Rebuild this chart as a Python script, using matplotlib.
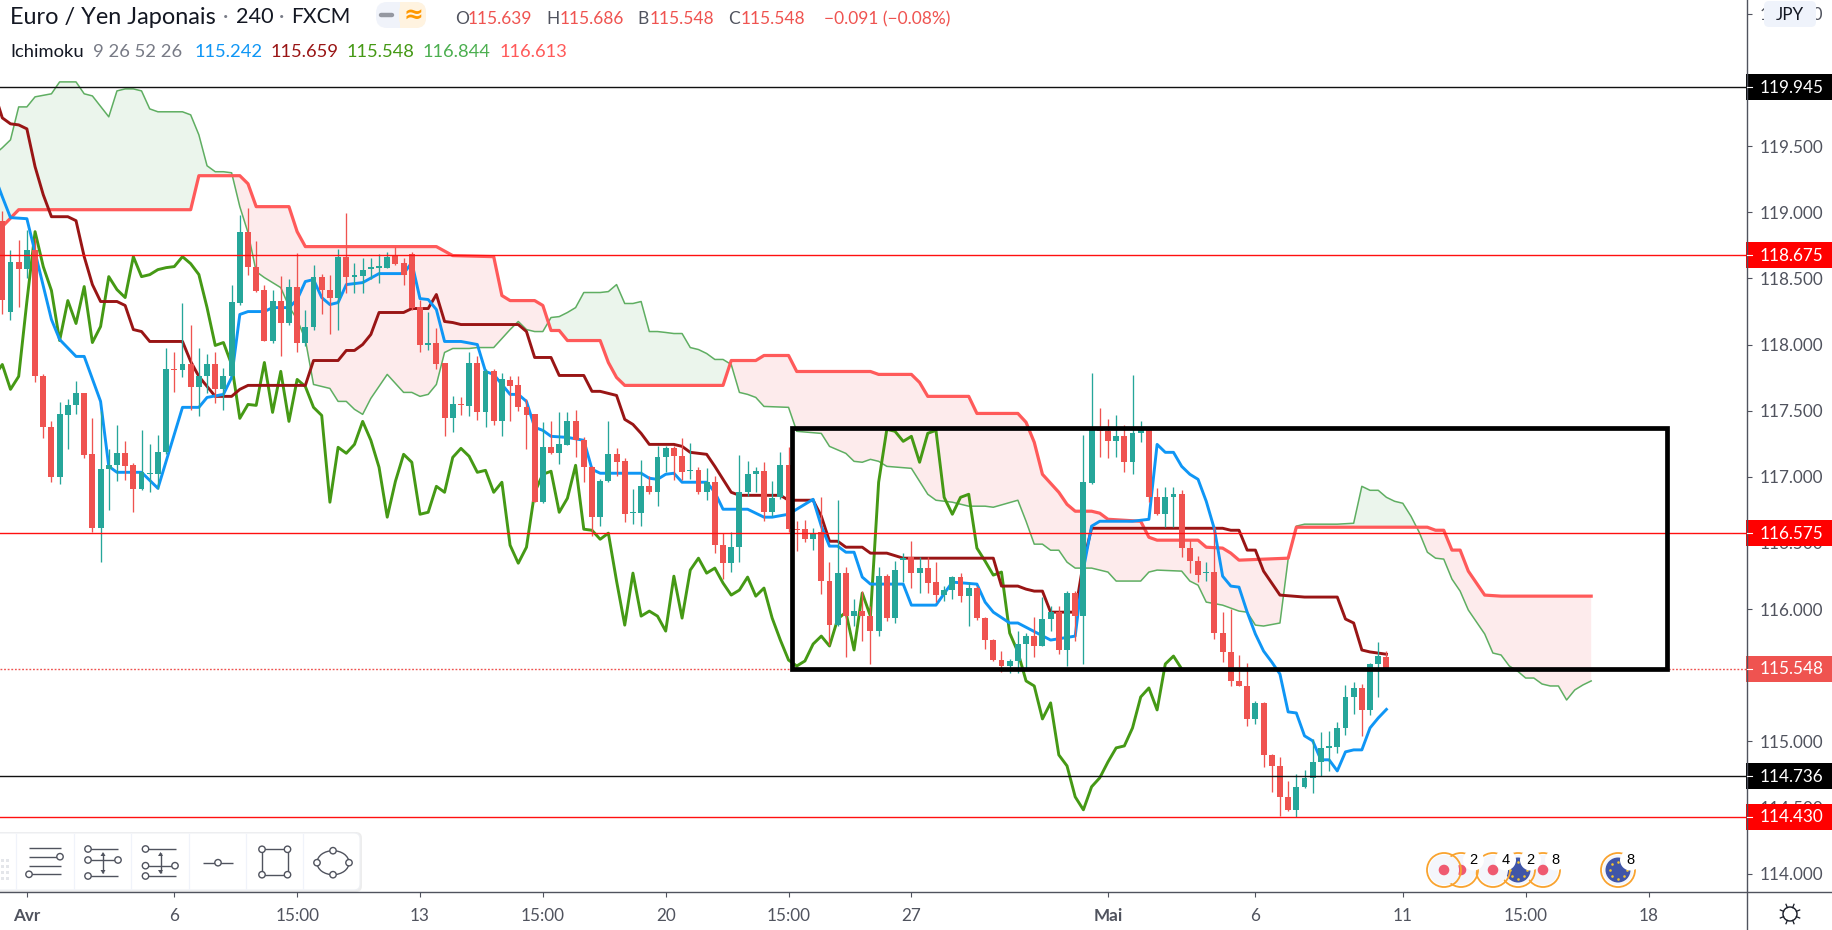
import numpy as np
import matplotlib
matplotlib.use('Agg')
import matplotlib.pyplot as plt
from matplotlib.patches import Rectangle, Circle, FancyBboxPatch, Ellipse

opens = [118.936,118.242,118.627,118.574,118.717,117.759,117.374,116.996,117.464,117.540,
117.631,117.170,116.611,117.057,117.087,117.178,117.087,116.906,117.019,117.019,
117.185,117.812,117.804,117.849,117.676,117.759,117.849,117.661,117.759,118.317,
118.853,118.589,118.415,118.030,118.332,118.159,118.438,118.015,118.136,118.513,
118.415,118.355,118.664,118.513,118.521,118.574,118.581,118.581,118.672,118.619,
118.687,118.287,117.993,118.015,117.857,117.442,117.547,117.532,117.864,117.487,
117.797,117.419,117.728,117.691,117.525,117.472,116.808,117.223,117.178,117.238,
117.419,117.276,117.072,116.695,116.966,117.170,117.117,116.725,116.725,116.928,
116.883,117.147,117.215,117.155,117.042,117.049,116.883,116.959,116.483,116.347,
116.468,116.883,117.019,117.042,116.732,116.845,117.087,116.604,116.604,116.528,
116.581,116.212,115.879,116.272,115.947,115.985,115.947,115.834,116.249,115.932,
116.370,116.393,116.272,116.310,116.204,116.106,116.144,116.242,116.098,116.159,
115.932,115.766,115.615,115.570,115.608,115.736,115.796,115.721,115.925,115.977,
115.691,116.121,115.947,116.951,117.359,117.344,117.268,117.306,117.110,117.329,
117.351,116.845,116.717,116.845,116.868,116.461,116.363,116.272,116.280,115.819,
115.676,115.457,115.419,115.170,115.291,114.898,114.815,114.581,114.483,114.657,
114.725,114.845,114.951,114.958,115.102,115.336,115.404,115.238,115.585,115.639]

closes = [118.340,118.627,118.574,118.717,117.759,117.374,116.996,117.472,117.540,117.631,
117.162,116.611,117.057,117.087,117.178,117.079,116.906,117.034,117.027,117.185,
117.812,117.804,117.849,117.676,117.759,117.849,117.661,117.759,118.325,118.853,
118.589,118.408,118.030,118.332,118.159,118.438,118.015,118.136,118.513,118.415,
118.355,118.664,118.513,118.528,118.566,118.581,118.589,118.664,118.611,118.529,
118.279,117.993,118.015,117.849,117.442,117.547,117.540,117.864,117.487,117.797,
117.419,117.736,117.683,117.525,117.464,116.808,117.223,117.178,117.245,117.419,
117.276,117.072,116.695,116.966,117.170,117.110,116.717,116.732,116.928,116.883,
117.147,117.215,117.155,117.034,117.049,116.883,116.959,116.483,116.347,116.468,
116.883,117.019,117.042,116.732,116.838,117.087,116.604,116.596,116.528,116.574,
116.212,115.879,116.272,115.947,115.985,115.947,115.834,116.249,115.932,116.295,
116.385,116.272,116.310,116.197,116.106,116.144,116.242,116.098,116.159,115.932,
115.766,115.615,115.570,115.608,115.736,115.796,115.721,115.925,115.977,115.691,
116.121,115.947,116.959,117.359,117.344,117.268,117.306,117.110,117.329,117.351,
116.845,116.717,116.845,116.868,116.461,116.363,116.257,116.280,115.819,115.676,
115.457,115.419,115.170,115.291,114.898,114.815,114.581,114.483,114.657,114.725,
114.845,114.951,114.966,115.102,115.336,115.404,115.238,115.585,115.645,115.548]

highs = [119.011,118.717,118.793,118.868,118.808,117.774,117.419,117.563,117.585,117.721,
117.631,117.442,117.495,117.208,117.389,117.268,117.102,117.351,117.245,117.313,
117.970,117.947,118.310,118.151,117.977,117.925,117.947,117.819,118.453,118.981,
119.034,118.785,118.453,118.415,118.521,118.498,118.695,118.264,118.604,118.536,
118.529,118.725,118.996,118.619,118.657,118.657,118.687,118.702,118.740,118.657,
118.702,118.340,118.249,118.128,117.857,117.608,117.600,117.947,117.910,117.812,
117.812,117.781,117.759,117.759,117.585,117.472,117.412,117.419,117.487,117.487,
117.502,117.298,117.079,116.981,117.419,117.215,117.140,116.906,117.125,117.004,
117.230,117.230,117.230,117.291,117.253,117.072,117.064,117.004,116.574,116.581,
117.162,117.117,117.072,117.110,116.966,117.185,117.223,116.664,116.672,116.611,
116.845,116.355,116.823,116.317,116.076,116.136,116.023,116.317,116.264,116.363,
116.423,116.513,116.393,116.393,116.355,116.174,116.249,116.272,116.204,116.174,
115.940,115.774,115.683,115.623,115.834,115.819,115.940,116.091,116.023,116.023,
116.136,116.136,117.313,117.781,117.517,117.434,117.464,117.389,117.766,117.419,
117.374,116.913,116.921,116.921,116.898,116.521,116.400,116.355,116.619,115.977,
116.000,115.653,115.592,115.306,115.298,114.906,114.883,114.702,114.755,114.785,
115.019,115.072,115.079,115.147,115.426,115.449,115.434,115.592,115.751,115.686]

lows = [118.227,118.189,118.287,118.506,117.713,117.291,116.959,116.944,117.208,117.472,
117.140,116.581,116.355,116.747,116.966,116.974,116.732,116.898,116.883,116.906,
117.170,117.638,117.751,117.502,117.457,117.631,117.555,117.502,117.736,118.302,
118.529,118.400,118.023,118.008,117.910,118.144,117.940,117.985,118.113,118.227,
118.076,118.113,118.393,118.393,118.393,118.498,118.468,118.581,118.604,118.453,
118.264,117.947,117.962,117.812,117.306,117.336,117.464,117.457,117.427,117.374,
117.389,117.306,117.419,117.495,117.208,116.808,116.800,117.170,117.095,117.238,
117.147,116.959,116.551,116.627,116.959,117.004,116.657,116.642,116.627,116.868,
116.777,117.034,116.974,116.974,116.981,116.868,116.823,116.423,116.227,116.280,
116.355,116.853,116.883,116.664,116.702,116.830,116.581,116.438,116.506,116.445,
116.113,115.728,115.872,115.638,115.872,115.759,115.585,115.796,115.910,115.894,
116.204,116.159,116.121,116.121,116.053,116.061,116.076,116.053,115.872,115.917,
115.698,115.608,115.525,115.517,115.517,115.547,115.638,115.721,115.834,115.660,
115.570,115.759,115.585,116.944,117.147,117.140,117.147,117.034,117.019,117.261,
116.808,116.710,116.619,116.619,116.393,116.272,116.204,116.212,115.774,115.600,
115.419,115.419,115.117,115.132,114.808,114.619,114.438,114.476,114.430,114.649,
114.611,114.740,114.777,114.913,115.049,115.208,115.042,115.200,115.336,115.548]

tenkan_bars = [-1,0,1,3,6,7,9,10,12,13,14,17,19,22,24,25,27,28,29,30,32,33,35,36,37,38,39,40,41,42,44,46,49,50,
51,52,53,54,56,58,59,60,62,63,64,65,66,67,69,71,72,73,78,79,80,81,82,83,86,87,88,91,93,94,96,97,99,100,101,102,103,
104,105,106,110,111,114,116,119,120,121,123,124,128,131,132,133,134,138,140,141,142,143,144,145,146,147,148,149,
150,151,152,153,154,155,156,157,158,159,160,161,162,163,164,165,166,167,168,169]
tenkan = [119.283,119.117,118.959,118.951,118.189,118.038,117.910,117.910,117.570,117.079,117.034,117.034,116.913,117.525,117.525,117.600,117.623,117.751,118.227,118.249,118.249,118.279,118.279,118.340,118.476,118.491,118.355,118.302,118.317,118.453,118.468,118.536,118.536,118.619,
118.347,118.340,118.264,118.023,118.023,118.000,117.796,117.774,117.623,117.623,117.570,117.374,117.351,117.306,117.298,117.276,117.057,117.027,117.027,116.989,116.981,117.019,117.027,116.959,116.959,116.883,116.755,116.755,116.695,116.695,116.717,116.755,116.830,116.627,116.476,116.476,116.430,
116.430,116.242,116.189,116.189,116.030,116.030,116.204,116.189,116.053,115.977,115.895,115.895,115.766,115.796,116.302,116.627,116.664,116.664,116.679,117.245,117.185,117.185,117.079,117.019,116.981,116.815,116.604,116.249,
116.174,116.166,115.977,115.812,115.683,115.600,115.509,115.223,115.215,115.042,115.004,114.861,114.861,114.777,114.921,114.936,114.936,115.102,115.177,115.242]

kijun_bars = [-1,0,1,2,3,4,5,6,8,9,10,11,12,14,15,16,17,18,22,23,24,26,28,29,30,37,38,41,42,43,44,45,46,49,50,52,53,54,55,56,63,64,65,67,68,71,72,73,75,
76,77,78,79,82,83,84,86,87,89,90,95,96,99,100,101,102,103,105,106,108,110,121,122,124,125,126,127,128,131,132,133,149,150,151,152,153,154,156,159,163,164,165,166,167,169]
kijun = [119.910,119.713,119.668,119.660,119.630,119.344,119.132,118.966,118.966,118.936,118.664,118.453,118.325,118.325,118.295,118.113,118.098,118.023,118.023,117.872,117.759,117.608,117.608,117.661,117.691,117.691,117.879,117.879,117.955,117.955,118.000,118.076,118.242,118.242,118.272,118.272,118.378,118.174,118.166,118.151,118.151,118.098,117.902,117.902,117.766,117.766,117.646,117.646,117.615,
117.434,117.396,117.328,117.245,117.245,117.230,117.185,117.170,117.079,116.883,116.860,116.860,116.823,116.823,116.702,116.513,116.513,116.468,116.468,116.423,116.423,116.385,116.385,116.174,116.174,116.151,116.136,116.136,115.977,115.977,116.355,116.611,116.611,116.596,116.596,116.446,116.446,116.287,116.106,116.091,116.091,115.925,115.895,115.691,115.676,115.659]

spanA_bars = [-1,0,1,2,3,4,6,7,9,10,11,13,14,15,16,17,18,19,22,23,24,25,26,27,28,29,30,31,32,33,34,35,36,37,38,40,41,42,43,44,45,47,49,50,51,52,53,54,55,57,58,60,62,63,64,65,66,67,68,69,70,71,73,74,75,76,77,78,
79,80,81,82,83,84,85,86,87,88,89,90,91,92,93,96,97,100,101,103,104,105,106,107,108,111,113,114,116,118,120,121,124,125,126,127,128,129,130,131,133,135,136,139,140,141,144,145,146,147,149,151,152,153,154,156,157,158,159,163,165,166,167,168,
169,170,171,172,173,174,175,176,177,178,179,180,181,182,183,184,185,186,187,188,189,190,191,192,193,194]
spanA = [119.434,119.487,119.547,119.796,119.796,119.872,119.895,119.985,119.985,119.895,119.879,119.721,119.917,119.932,119.932,119.917,119.781,119.759,119.759,119.736,119.585,119.351,119.306,119.306,119.298,119.042,118.846,118.551,118.506,118.468,118.430,118.287,118.189,118.038,117.698,117.668,117.570,117.570,117.510,117.472,117.593,117.774,117.638,117.638,117.608,117.623,117.698,117.940,117.970,117.970,117.977,117.977,118.113,118.174,118.113,118.098,118.098,118.204,118.211,118.242,118.279,118.393,118.393,118.400,118.453,118.310,118.310,118.325,
118.098,118.098,118.091,118.083,118.083,117.977,117.962,117.932,117.887,117.887,117.849,117.638,117.623,117.600,117.532,117.525,117.344,117.328,117.230,117.177,117.117,117.110,117.132,117.117,117.079,117.064,116.868,116.823,116.808,116.778,116.778,116.770,116.823,116.664,116.491,116.491,116.445,116.445,116.355,116.310,116.310,116.280,116.212,116.212,116.280,116.295,116.287,116.212,116.181,116.053,116.030,115.985,115.977,115.879,115.872,115.895,116.378,116.627,116.642,116.642,116.649,116.928,116.898,116.898,
116.845,116.815,116.800,116.702,116.581,116.430,116.385,116.378,116.227,116.136,115.993,115.902,115.812,115.668,115.653,115.570,115.532,115.479,115.479,115.434,115.419,115.419,115.313,115.389,115.427,115.457]

spanB_bars = [-1,0,2,23,24,29,30,31,35,36,37,53,55,60,61,62,65,66,67,68,69,73,74,75,76,88,89,92,93,96,97,106,107,111,112,113,118,119,124,125,126,127,128,129,130,131,133,134,135,139,140,141,146,147,149,150,151,157,158,174,175,176,177,178,179,181,183,194]
spanB = [118.853,118.891,119.019,119.019,119.276,119.276,119.215,119.042,119.042,118.853,118.740,118.740,118.672,118.664,118.370,118.332,118.332,118.295,118.106,118.106,118.030,118.030,117.864,117.751,117.691,117.691,117.879,117.879,117.917,117.917,117.796,117.796,117.774,117.774,117.713,117.608,117.608,117.479,117.479,117.412,117.261,117.019,116.951,116.883,116.792,116.740,116.740,116.725,116.679,116.664,116.543,116.521,116.521,116.468,116.461,116.423,116.370,116.385,116.619,116.619,116.596,116.596,116.446,116.446,116.287,116.106,116.098,116.098]

black_levels = [119.945, 114.736]
red_levels = [118.675, 116.575, 114.430]
last_price = 115.548
box_bars = [96.4, 203.3]
box_prices = [115.548, 117.366]

x_tick_bars = [3,21,36,51,66,81,96,111,135,153,171,186,201]
x_tick_labels = ['Avr','6','15:00','13','15:00','20','15:00','27','Mai','6','11','15:00','18']
y_ticks = [114.0,114.5,115.0,115.5,116.0,116.5,117.0,117.5,118.0,118.5,119.0,119.5,120.5]

UP, DOWN = '#26a69a', '#ef5350'
GREY = '#50535e'
FONT = ['Lato', 'DejaVu Sans']
plt.rcParams['font.family'] = FONT

W, H = 1832, 930
PX_PER_UNIT = 132.3
TOP_PRICE = 120.604
fig = plt.figure(figsize=(W/100, H/100), dpi=100, facecolor='white')
ax = fig.add_axes([0, (H-892)/H, 1746.7/W, 892/H])
ax.set_xlim(-0.281, 212.99)
ax.set_ylim(TOP_PRICE - 892/PX_PER_UNIT, TOP_PRICE)

o, h, l, c = map(np.array, (opens, highs, lows, closes))
bars = np.arange(len(o))
up = c >= o
col = np.where(up, UP, DOWN)

xs = np.arange(-1, 195)
a = np.interp(xs, spanA_bars, spanA)
b = np.interp(xs, spanB_bars, spanB)
ax.fill_between(xs, a, b, where=a >= b, interpolate=True, color='#ebf5ec', lw=0, zorder=1)
ax.fill_between(xs, a, b, where=a <= b, interpolate=True, color='#fdebec', lw=0, zorder=1)
ax.plot(spanA_bars, spanA, color='#5fae62', lw=1.1, zorder=2)
ax.plot(spanB_bars, spanB, color='#ff5a5a', lw=2.3, zorder=2.1)
ax.plot(np.arange(-1, 145), closes[24:], color='#459915', lw=2.1, zorder=3)
ax.plot(kijun_bars, kijun, color='#991515', lw=2.1, zorder=3.1)
ax.plot(tenkan_bars, tenkan, color='#0f96f5', lw=2.1, zorder=3.2)

ax.vlines(bars, l, h, colors=col, lw=0.95, zorder=4)
ax.bar(bars, np.maximum(np.abs(c-o), 0.012), bottom=np.minimum(o, c), width=0.72, color=col, lw=0, zorder=4.1)

for p in black_levels:
    ax.axhline(p, color='#111111', lw=1.0, zorder=5)
for p in red_levels:
    ax.axhline(p, color='#ff1010', lw=1.0, zorder=5)
ax.axhline(last_price, color=DOWN, lw=1.0, ls=(0, (1.3, 1.3)), zorder=5)
ax.add_patch(Rectangle((box_bars[0], box_prices[0]), box_bars[1]-box_bars[0], box_prices[1]-box_prices[0],
                       fill=False, ec='black', lw=3.4, joinstyle='miter', zorder=6))

for s in ax.spines.values():
    s.set_visible(False)
ax.yaxis.tick_right()
ax.set_yticks(y_ticks)
ax.set_yticklabels([f'{v:.3f}' for v in y_ticks])
ax.set_xticks(x_tick_bars)
ax.set_xticklabels(x_tick_labels)
ax.tick_params(axis='y', length=3.8, width=0.8, color=GREY, labelcolor=GREY, labelsize=12.3, pad=5.6)
ax.tick_params(axis='x', length=3.8, width=0.8, color=GREY, labelcolor=GREY, labelsize=12.3, pad=7.4)
for t, s in zip(ax.get_xticklabels(), x_tick_labels):
    if s in ('Avr', 'Mai'):
        t.set_fontweight('bold')

# pixel-space overlay for the chart chrome
ov = fig.add_axes([0, 0, 1, 1], zorder=10)
ov.set_xlim(0, W); ov.set_ylim(H, 0); ov.axis('off'); ov.patch.set_alpha(0)
price_y = lambda p: (TOP_PRICE - p) * PX_PER_UNIT

ov.plot([0, W], [892, 892], color=GREY, lw=1.0)
ov.plot([1746.7, 1746.7], [0, H], color=GREY, lw=1.0)

for p, colr in [(119.945, '#000000'), (118.675, '#ff0000'), (116.575, '#ff0000'),
                (last_price, DOWN), (114.736, '#000000'), (114.430, '#ff0000')]:
    y = price_y(p)
    ov.add_patch(Rectangle((1746.2, y-13), 86, 26, color=colr, lw=0))
    ov.plot([1747, 1752], [y, y], color='white', lw=0.8)
    ov.text(1760, y+0.5, f'{p:.3f}', color='white', fontsize=12.3, va='center', ha='left')

# currency chip
ov.add_patch(FancyBboxPatch((1767, 4), 46, 20, boxstyle='round,pad=3,rounding_size=5', fc='#eff3fb', ec='none'))
ov.text(1790, 14.5, 'JPY', color='#131722', fontsize=12.3, ha='center', va='center')

# header
DARK = '#131722'
ov.text(10, 17, 'Euro / Yen Japonais', color=DARK, fontsize=16.9, va='center')
ov.text(226, 17, '·', color='#787b86', fontsize=15, va='center', ha='center')
ov.text(236, 17, '240', color=DARK, fontsize=15.6, va='center')
ov.text(281.5, 17, '·', color='#787b86', fontsize=15, va='center', ha='center')
ov.text(291, 17, 'FXCM', color=DARK, fontsize=15.2, va='center')
ov.add_patch(FancyBboxPatch((378, 4), 46, 22, boxstyle='round,pad=2,rounding_size=11', fc='#f0f3fa', ec='none'))
ov.add_patch(FancyBboxPatch((401, 4), 23, 22, boxstyle='round,pad=2,rounding_size=10', fc='#fff3e0', ec='none'))
ov.add_patch(Rectangle((400, 2), 10, 26, fc='#fff3e0', ec='none'))
ov.plot([381, 392], [15, 15], color='#9598a1', lw=3.2, solid_capstyle='round')
ov.text(413, 15, '≈', color='#ff9800', fontsize=17, ha='center', va='center', family='DejaVu Sans', fontweight='bold')

for x, s, colr in [(455, 'O', GREY), (468, '115.639', DOWN), (546, 'H', GREY), (559.5, '115.686', DOWN),
                   (637, 'B', GREY), (650, '115.548', DOWN), (728, 'C', GREY), (741, '115.548', DOWN),
                   (824, '−0.091 (−0.08%)', DOWN)]:
    ov.text(x, 19, s, color=colr, fontsize=12.5, va='center')
ov.text(10, 52, 'Ichimoku', color=DARK, fontsize=13.2, va='center')
ov.text(93, 52, '9 26 52 26', color='#787b86', fontsize=13.2, va='center')
for x, s, colr in [(194.5, '115.242', '#0f96f5'), (270.5, '115.659', '#991515'), (347, '115.548', '#459915'),
                   (423, '116.844', '#4caf50'), (500, '116.613', '#ff5a5a')]:
    ov.text(x, 52, s, color=colr, fontsize=13.2, va='center')

# drawing toolbar
ICON = '#50535e'
ov.add_patch(FancyBboxPatch((-10, 832), 372, 60, boxstyle='round,pad=0,rounding_size=6', fc='#00000012', ec='none'))
ov.add_patch(FancyBboxPatch((-10, 833), 370, 57, boxstyle='round,pad=0,rounding_size=6', fc='white', ec='#eef0f4', lw=0.8))
for x in [16, 73.5, 131, 189, 246, 303]:
    ov.plot([x, x], [834, 889], color='#f0f3fa', lw=0.9)
for x in (2, 7):
    for y in (860, 866, 872, 878):
        ov.add_patch(Rectangle((x-1.5, y-1.5), 3, 3, fc='#e4e6ea', ec='none'))
def seg(x0, y0, x1, y1):
    ov.plot([x0, x1], [y0, y1], color=ICON, lw=1.0, solid_capstyle='butt', zorder=3)
def dot(x, y):
    ov.add_patch(Circle((x, y), 3.2, fc='white', ec=ICON, lw=1.0, zorder=4))
def arrow(x, y0, y1):
    seg(x, y0, x, y1)
    ov.fill([x-2.5, x+2.5, x], [y0+3, y0+3, y0-1], color=ICON, lw=0, zorder=4)
    ov.fill([x-2.5, x+2.5, x], [y1-3, y1-3, y1+1], color=ICON, lw=0, zorder=4)
for y in (847.7, 856.7, 865.7, 874.3):
    seg(28.5, y, 61, y)
dot(60, 856.7); dot(29, 874.3)
for y in (849, 860, 876):
    seg(88, y, 118, y)
arrow(103, 853, 873)
dot(88, 849); dot(88, 860); dot(118, 860); dot(88, 876)
for y in (849, 865.7, 876):
    seg(145.5, y, 176, y)
arrow(160.5, 853, 873)
dot(145.5, 849); dot(145.5, 865.7); dot(175, 865.7); dot(145.5, 876)
seg(202.5, 862.7, 233, 862.7); dot(218, 862.7)
for (x0, y0, x1, y1) in [(262, 849.3, 287.5, 849.3), (262, 874.7, 287.5, 874.7), (262, 849.3, 262, 874.7), (287.5, 849.3, 287.5, 874.7)]:
    seg(x0, y0, x1, y1)
for p in [(262, 849.3), (287.5, 849.3), (262, 874.7), (287.5, 874.7)]:
    dot(*p)
ov.add_patch(Ellipse((333, 862.7), 32, 24, fc='none', ec=ICON, lw=1.0, zorder=3))
for p in [(333, 850.7), (333, 874.7), (317, 862.7), (349, 862.7)]:
    dot(*p)

# settings icon
ov.add_patch(Circle((1790, 914), 7, fc='none', ec='#131722', lw=1.0))
for ang in np.arange(0, 360, 45) + 22.5:
    r = np.deg2rad(ang)
    ov.plot([1790+7*np.cos(r), 1790+10.5*np.cos(r)], [914+7*np.sin(r), 914+10.5*np.sin(r)], color='#131722', lw=0.9)

# economic event markers: earlier ones lie on top, so draw them last
events = [(1444, None, False), (1461, '2', False), (1493, '4', False),
          (1518, '2', True), (1543, '8', False), (1618, '8', True)]
for cx, label, eu in reversed(events):
    cy = 870
    ov.add_patch(Circle((cx, cy), 15, fc='#f4f6fb', ec='none'))
    if eu:
        ov.add_patch(Circle((cx, cy), 12.5, fc='#3f55a8', ec='none'))
        t = np.deg2rad(np.arange(0, 360, 45))
        ov.scatter(cx+8.5*np.cos(t), cy+8.5*np.sin(t), s=3.5, color='#f4c430', lw=0, zorder=2.5)
    else:
        ov.add_patch(Circle((cx, cy), 5.3, fc='#ef5a70', ec='none'))
    ov.add_patch(Circle((cx, cy), 17, fc='none', ec='#f9a32f', lw=1.3))
    if label:
        ov.add_patch(Circle((cx+12.5, cy-10), 10.5, fc='white', ec='none', zorder=2.6))
        ov.text(cx+12.5, cy-10, label, color='black', fontsize=10.5, ha='center', va='center',
                family='Liberation Sans', zorder=2.7)

fig.savefig('out.png', dpi=100, facecolor='white')
